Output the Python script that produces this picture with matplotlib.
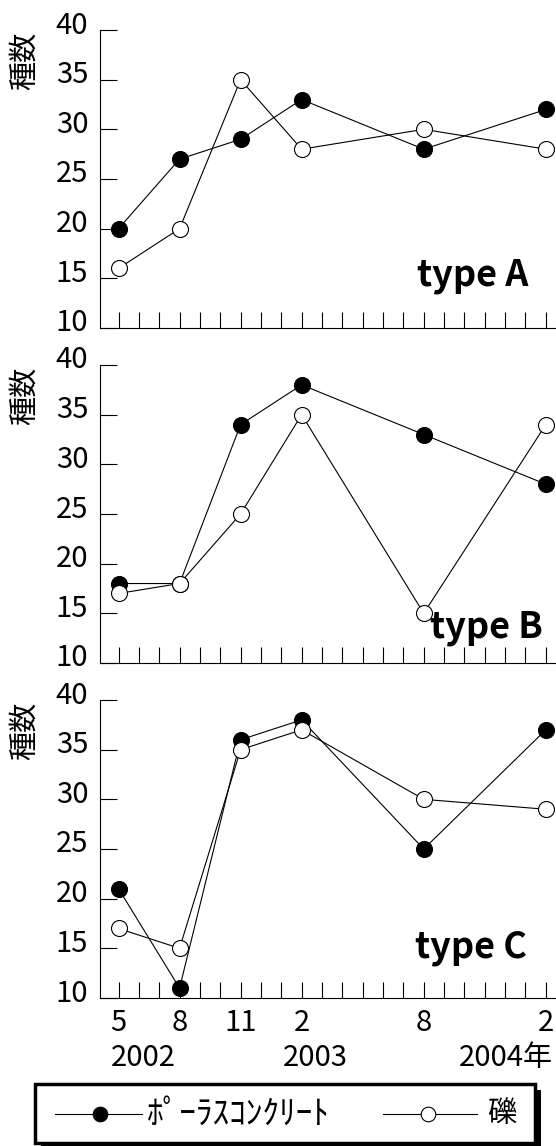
import matplotlib.pyplot as plt
import matplotlib.transforms as mtransforms
from matplotlib.lines import Line2D
from matplotlib.patches import Rectangle

JP = ['Noto Sans CJK JP', 'DejaVu Sans']
plt.rcParams['font.family'] = JP

# survey months, counted from May 2002
months = [0, 3, 6, 9, 15, 21]
month_labels = ['5', '8', '11', '2', '8', '2']
years = ['2002', '2003', '2004年']
year_pos = [1.2, 9.66, 21.35]

porous_a = [20, 27, 29, 33, 28, 32]
gravel_a = [16, 20, 35, 28, 30, 28]
porous_b = [18, 18, 34, 38, 33, 28]
gravel_b = [17, 18, 25, 35, 15, 34]
porous_c = [21, 11, 36, 38, 25, 37]
gravel_c = [17, 15, 35, 37, 30, 29]

panels = [('type A', porous_a, gravel_a, (17.4, 14.3)),
          ('type B', porous_b, gravel_b, (18.1, 12.6)),
          ('type C', porous_c, gravel_c, (17.3, 14.1))]

W, H = 556, 1146
fig = plt.figure(figsize=(W / 100, H / 100), dpi=100)

tops = [30, 365, 700]
for (name, porous, gravel, tpos), top in zip(panels, tops):
    ax = fig.add_axes([100 / W, 1 - (top + 298) / H, 456 / W, 298 / H])
    ax.plot(months, porous, color='black', lw=0.8, marker='o', ms=11.5,
            mfc='black', mec='black', mew=0.8, zorder=3)
    ax.plot(months, gravel, color='black', lw=0.8, marker='o', ms=11.5,
            mfc='white', mec='black', mew=0.8, zorder=4)
    ax.set_xlim(-0.91, 21.5)
    ax.set_ylim(10, 40)
    ax.set_yticks(range(10, 41, 5))
    ax.set_xticks(range(0, 22))
    labels = [''] * 22
    for m, lab in zip(months, month_labels):
        labels[m] = lab
    ax.set_xticklabels(labels if top == tops[-1] else [''] * 22)
    for side in ['top', 'right']:
        ax.spines[side].set_visible(False)
    for side in ['left', 'bottom']:
        ax.spines[side].set_linewidth(0.8)
    ax.tick_params(axis='y', direction='in', length=12, width=0.8, pad=8.5, labelsize=21)
    ax.tick_params(axis='x', direction='in', length=11.5, width=0.8, pad=7.5, labelsize=21)
    shift = mtransforms.ScaledTranslation(0, 8 / 100, fig.dpi_scale_trans)
    for lab in ax.get_yticklabels():
        lab.set_transform(lab.get_transform() + shift)
    ax.text(-0.165, 0.895, '種数', transform=ax.transAxes, rotation=90,
            ha='center', va='center', fontsize=21)
    ax.text(tpos[0], tpos[1], name, ha='center', va='baseline',
            fontsize=26, fontweight='bold')

# year row under the last panel
for x, yr in zip(year_pos, years):
    ax.text(x, -0.2, yr, transform=ax.get_xaxis_transform(),
            ha='right' if yr.endswith('年') else 'center', va='center', fontsize=21)

# legend box with a drop shadow
def fx(px):
    return px / W


def fy(py):
    return 1 - py / H


fig.add_artist(Rectangle((fx(41), fy(1149)), fx(500), 59 / H, transform=fig.transFigure,
                         facecolor='black', edgecolor='none', zorder=1))
fig.add_artist(Rectangle((fx(35), fy(1143)), fx(500), 59 / H, transform=fig.transFigure,
                         facecolor='white', edgecolor='black', lw=2.5, zorder=2))
for (x0, x1, xm), face in [((55, 142, 100), 'black'), ((383, 477, 428), 'white')]:
    fig.add_artist(Line2D([fx(x0), fx(x1)], [fy(1114), fy(1114)], transform=fig.transFigure,
                          color='black', lw=0.8, zorder=3))
    fig.add_artist(Line2D([fx(xm)], [fy(1114)], transform=fig.transFigure, marker='o',
                          ms=10.5, mfc=face, mec='black', mew=0.8, zorder=4))
fig.text(fx(147), fy(1114), 'ﾎﾟｰﾗｽｺﾝｸﾘｰﾄ', ha='left', va='center', fontsize=24, zorder=4)
fig.text(fx(487), fy(1114), '礫', ha='left', va='center', fontsize=21, zorder=4)

fig.savefig('out.png', dpi=100)
